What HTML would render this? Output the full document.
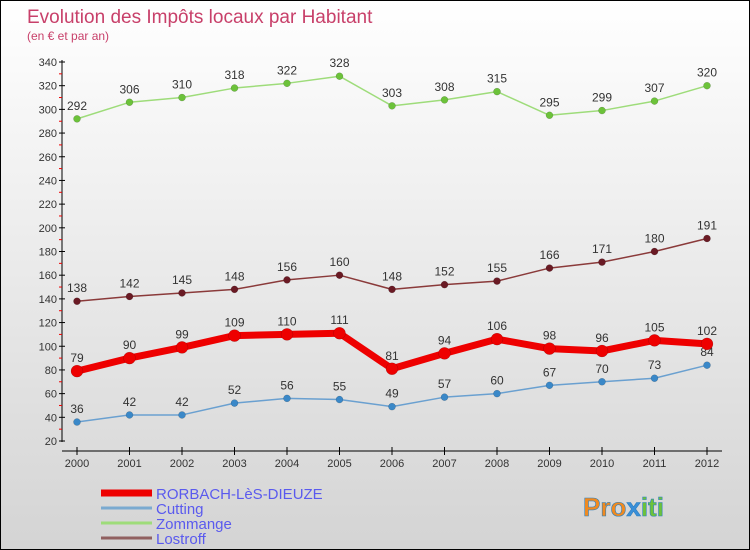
<!DOCTYPE html>
<html><head><meta charset="utf-8"><style>
body{margin:0}
#c{width:748px;height:548px;border:1px solid #000;background:linear-gradient(#fff,#d4d4d4);position:relative;font-family:"Liberation Sans",sans-serif;overflow:hidden}
svg{position:absolute;left:0;top:0}
</style></head><body>
<div id="c">
<svg id="s" width="750" height="550">
<text x="26" y="22" font-size="19" fill="#c8406a">Evolution des Impôts locaux par Habitant</text>
<text x="26" y="39" font-size="12" fill="#c8406a">(en € et par an)</text>
<g><text x="582" y="515" font-size="26" font-weight="bold" fill="#f08a20" stroke="#2a7fc0" stroke-width="0.6">Pro<tspan fill="#3a8fd8">x</tspan><tspan fill="#6cc23a">iti</tspan></text></g>
</svg>
</div>
<script>
const years=[2000,2001,2002,2003,2004,2005,2006,2007,2008,2009,2010,2011,2012];
const rorbach=[79,90,99,109,110,111,81,94,106,98,96,105,102];
const cutting=[36,42,42,52,56,55,49,57,60,67,70,73,84];
const zommange=[292,306,310,318,322,328,303,308,315,295,299,307,320];
const lostroff=[138,142,145,148,156,160,148,152,155,166,171,180,191];
const yTicks=[20,40,60,80,100,120,140,160,180,200,220,240,260,280,300,320,340];
const s=document.getElementById('s');const NS='http://www.w3.org/2000/svg';
function X(i){return 76+i*52.5}
function Y(v){return 440-(v-20)*379/320}
function el(t,a,p){const e=document.createElementNS(NS,t);for(const k in a)e.setAttribute(k,a[k]);(p||s).appendChild(e);return e}
const ax=el('g',{});


el('line',{x1:61,y1:59,x2:61,y2:441,stroke:'#000','stroke-width':1},ax);
el('line',{x1:61,y1:450,x2:721,y2:450,stroke:'#000','stroke-width':1},ax);
yTicks.forEach((v,i)=>{const y=Y(v);el('line',{x1:58,x2:64,y1:y,y2:y,stroke:'#000'},ax);
if(i<yTicks.length-1)el('line',{x1:58,x2:61,y1:Y(v+10),y2:Y(v+10),stroke:'#e00'},ax);
const t=el('text',{x:56,y:y+4,'text-anchor':'end','font-size':11,fill:'#333'},ax);t.textContent=v;

});
years.forEach((yr,i)=>{el('line',{x1:X(i),x2:X(i),y1:446,y2:454,stroke:'#000'},ax);
const t=el('text',{x:X(i),y:466,'text-anchor':'middle','font-size':11,fill:'#333'},ax);t.textContent=yr;

});
function series(d,color,dot,w,r,name){const g=el('g',{});


el('polyline',{points:d.map((v,i)=>X(i)+','+Y(v)).join(' '),fill:'none',stroke:color,'stroke-width':w,'stroke-linejoin':'round'},g);
d.forEach((v,i)=>{const c=el('circle',{cx:X(i),cy:Y(v),r:r,fill:dot,stroke:'rgba(0,0,0,0.25)','stroke-width':0.5},g);


const t=el('text',{x:X(i),y:Y(v)-9,'text-anchor':'middle','font-size':12,fill:'#333'},g);t.textContent=v;

});}
series(zommange,'#9edc7a','#6cc23a',1.5,3.5,'series-zommange');
series(lostroff,'#8a3a3a','#6a1a24',1.5,3.5,'series-lostroff');
series(cutting,'#6aa0d0','#3a88c8',1.5,3.5,'series-cutting');
series(rorbach,'#ee0000','#ee0000',7,6,'series-rorbach');
const lg=[['RORBACH-LèS-DIEUZE','#ee0000',7],['Cutting','#7aaad0',3],['Zommange','#9edc7a',3],['Lostroff','#906060',3]];
lg.forEach((l,i)=>{const g=el('g',{});


const y=492+i*15;el('line',{x1:100,x2:151,y1:y,y2:y,stroke:l[1],'stroke-width':l[2]},g);
const t=el('text',{x:155,y:y+6,'font-size':15,fill:'#5a5aee'},g);t.textContent=l[0];});
</script>
</body></html>
